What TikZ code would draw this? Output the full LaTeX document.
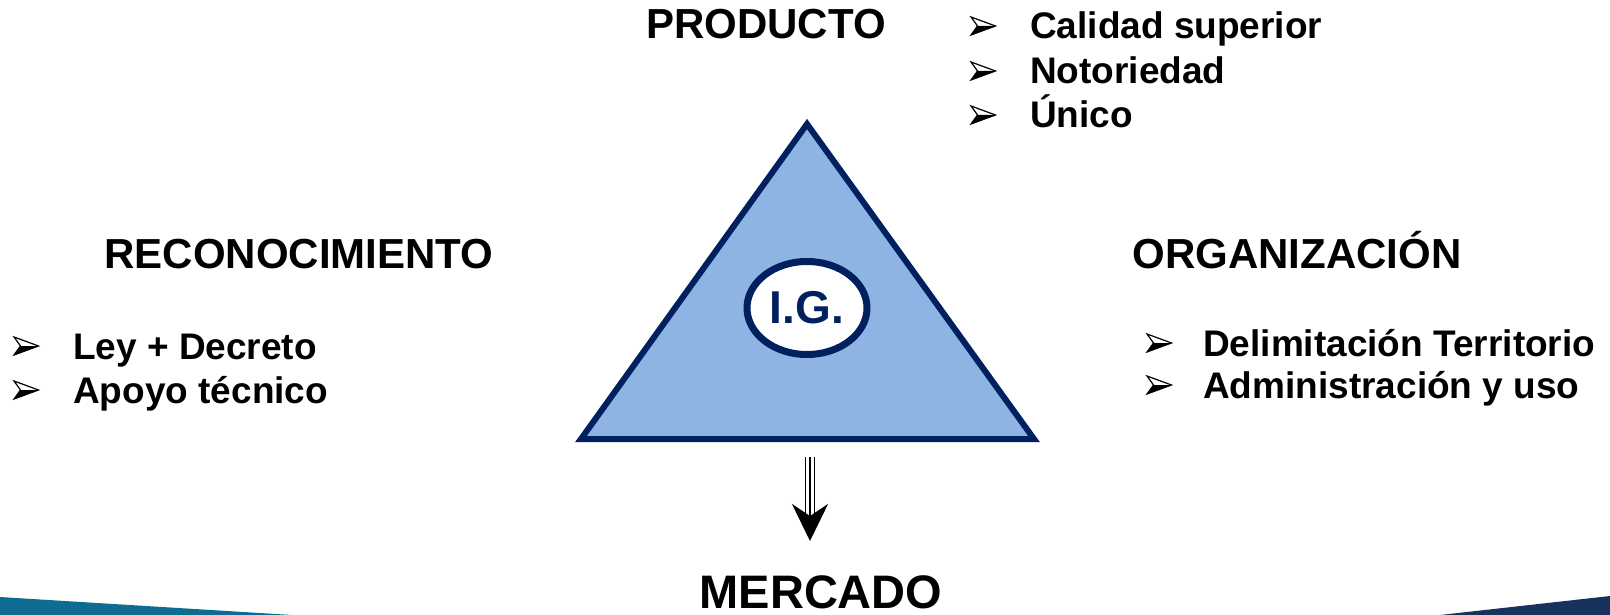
\documentclass[tikz,border=0pt]{standalone}
\usepackage{fontspec}
\setmainfont{Liberation Sans}
\usetikzlibrary{shapes.geometric}
\usetikzlibrary{arrows.meta}
\definecolor{igNavy}{RGB}{0,32,96}
\definecolor{igBlue}{RGB}{141,180,226}
\definecolor{footTeal}{RGB}{14,108,146}
\definecolor{footNavy}{RGB}{23,50,92}
\tikzset{
  arrowBullet/.pic = {
    \draw[line width = 1.2pt, line join = miter] (-12,-9) -- (12.5,0) -- (-12,9) -- (-5.5,0) -- cycle;
    \fill (-5.5,0) -- (12.5,0) -- (-12,9) -- cycle;
  }
}

\begin{document}
\begin{tikzpicture}[x=1pt, y=-1pt]
\tikzstyle{headStyle}=[inner sep = 0pt, anchor = base, font = \fontsize{42}{42}\selectfont\bfseries]
\tikzstyle{itemStyle}=[inner sep = 0pt, anchor = base west, font = \fontsize{37}{37}\selectfont\bfseries]
\tikzstyle{triStyle}=[draw = igNavy, fill = igBlue, line width = 6pt, line join = miter]
\tikzstyle{igStyle}=[shape = ellipse, draw = igNavy, fill = white, line width = 7pt, minimum width = 120pt, minimum height = 93pt, inner sep = 0pt, text = igNavy, font = \fontsize{46}{46}\selectfont\bfseries]
\tikzstyle{shaftStyle}=[line width = 1.8pt]
\useasboundingbox (0,0) rectangle (1610,615);
% footer strips
\fill[footTeal] (0,597) -- (292,615) -- (0,615) -- cycle;
\fill[footNavy] (1440,615) -- (1610,596) -- (1610,615) -- cycle;
% triangle and I.G.
\coordinate (apex) at (807,124);
\coordinate (baseR) at (1034,439);
\coordinate (baseL) at (581,439);
\draw[triStyle] (apex) -- (baseR) -- (baseL) -- cycle;
\node[igStyle] (ig) at (807,308) {I.G.};
% headings
\node[headStyle] (producto) at (766,39) {PRODUCTO};
\node[headStyle] (reconoc) at (299,268) {RECONOCIMIENTO};
\node[headStyle] (organiz) at (1297,268) {ORGANIZACIÓN};
\node[headStyle, font = \fontsize{47}{47}\selectfont\bfseries] (mercado) at (821,608) {MERCADO};
% producto list
\pic at (983,26) {arrowBullet};
\node[itemStyle] (ip1) at (1030,39) {Calidad superior};
\pic at (983,71) {arrowBullet};
\node[itemStyle] (ip2) at (1030,84) {Notoriedad};
\pic at (983,115) {arrowBullet};
\node[itemStyle] (ip3) at (1030,128) {Único};
% reconocimiento list
\pic at (26,346) {arrowBullet};
\node[itemStyle] (ir1) at (73,359) {Ley + Decreto};
\pic at (26,390) {arrowBullet};
\node[itemStyle] (ir2) at (73,403) {Apoyo técnico};
% organizacion list
\pic at (1159,343) {arrowBullet};
\node[itemStyle] (io1) at (1203,356) {Delimitación Territorio};
\pic at (1159,385) {arrowBullet};
\node[itemStyle] (io2) at (1203,398) {Administración y uso};
% arrow to mercado
\coordinate (arrTop) at (810,457);
\coordinate (arrMid) at (810,516);
\coordinate (arrTip) at (810,541);
\draw[shaftStyle, -{Stealth[length=37pt, width=36pt, inset=12pt]}] (arrTop) -- (arrTip);
\draw[shaftStyle] ([xshift=-4.5pt]arrTop) -- ([xshift=-4.5pt]arrMid);
\draw[shaftStyle] ([xshift=4.5pt]arrTop) -- ([xshift=4.5pt]arrMid);
\end{tikzpicture}
\end{document}
